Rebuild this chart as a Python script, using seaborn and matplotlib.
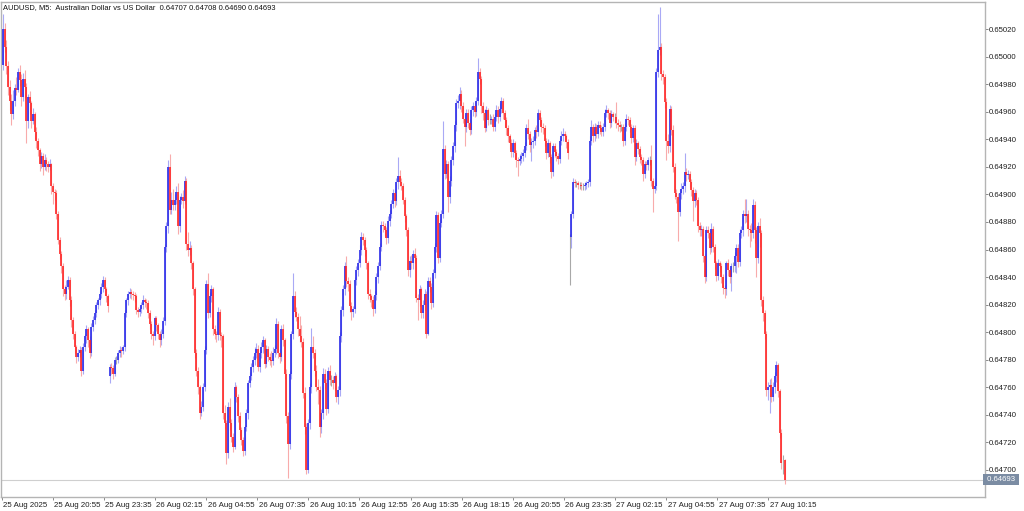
import numpy as np
import matplotlib
matplotlib.use("Agg")
import matplotlib.pyplot as plt
import matplotlib.transforms as mtransforms
import seaborn as sns

# ---------------- data (prices in points, 1 point = 0.00001) ----------------
chart_title = "AUDUSD, M5:  Australian Dollar vs US Dollar  0.64707 0.64708 0.64690 0.64693"
last_price = 0.64693

time_labels = ["25 Aug 2025", "25 Aug 20:55", "25 Aug 23:35", "26 Aug 02:15",
               "26 Aug 04:55", "26 Aug 07:35", "26 Aug 10:15", "26 Aug 12:55",
               "26 Aug 15:35", "26 Aug 18:15", "26 Aug 20:55", "26 Aug 23:35",
               "27 Aug 02:15", "27 Aug 04:55", "27 Aug 07:35", "27 Aug 10:15"]

price_ticks = [0.64700, 0.64720, 0.64740, 0.64760, 0.64780, 0.64800, 0.64820,
               0.64840, 0.64860, 0.64880, 0.64900, 0.64920, 0.64940, 0.64960,
               0.64980, 0.65000, 0.65020]

open_pts = [
    64994, 65020, 65007, 64993, 64978, 64968, 64958, 64968, 64977, 64976,
    64989, 64983, 64971, 64984, 64978, 64953, 64971, 64966, 64953, 64958,
    64945, 64939, 64932, 64922, 64928, 64920, 64925, 64922, 64920, 64922,
    64906, 64902, 64901, 64886, 64867, 64857, 64848, 64831, 64828, 64833,
    64838, 64823, 64809, 64799, 64789, 64782, 64785, 64787, 64772, 64789,
    64797, 64802, 64794, 64785, 64804, 64809, 64814, 64820, 64823, 64828,
    64833, 64838, 64831, 64826,
    64768, 64775, 64774, 64770, 64780, 64780, 64785, 64787, 64786, 64789,
    64814, 64823, 64828, 64829, 64828, 64827, 64826, 64816, 64815, 64817,
    64820, 64823, 64822, 64821, 64814, 64806, 64799, 64797, 64810, 64805,
    64799, 64794, 64799, 64808, 64862, 64877, 64920, 64889, 64896, 64892,
    64896, 64902, 64877, 64896, 64898, 64895, 64910, 64864, 64860, 64861,
    64850, 64831, 64785, 64772, 64760, 64741, 64746, 64760, 64787, 64835,
    64814, 64826, 64831, 64802, 64799, 64798, 64815, 64798, 64797, 64741,
    64734, 64712, 64746, 64734, 64724, 64717, 64760, 64753, 64739, 64729,
    64722, 64714, 64731,
    64741, 64763, 64768, 64775, 64780, 64785, 64788, 64775, 64785, 64789,
    64794, 64777, 64788, 64782, 64780, 64779, 64785, 64788, 64806, 64785,
    64782, 64802, 64794, 64770, 64739, 64719, 64770, 64799, 64826, 64815,
    64811, 64802, 64797, 64793, 64756, 64731, 64700, 64734, 64760, 64789,
    64785, 64772, 64760, 64758, 64731, 64741, 64770, 64763, 64744, 64772,
    64765, 64765, 64763, 64768, 64753, 64758, 64797, 64816, 64831, 64848,
    64837, 64835, 64819, 64815, 64817, 64838, 64845, 64850, 64860, 64869,
    64867, 64860, 64850, 64828, 64826, 64823, 64817, 64827, 64840, 64848,
    64862, 64878, 64877, 64874, 64868, 64881, 64886, 64893, 64901, 64895,
    64909, 64913, 64909, 64906, 64896, 64884, 64874, 64845, 64852, 64850,
    64857, 64854, 64825, 64823, 64831, 64814, 64820, 64828, 64799, 64837,
    64833, 64821, 64843, 64862, 64885, 64854, 64879, 64886, 64933, 64915,
    64922, 64898, 64910, 64925, 64935, 64950, 64966, 64968, 64973, 64964,
    64955, 64949, 64959, 64952, 64947, 64961, 64964, 64960, 64968, 64989,
    64984, 64964, 64959, 64948, 64961, 64954, 64954,
    64955, 64949, 64956, 64961, 64956, 64962, 64968, 64959, 64954, 64948,
    64942, 64937, 64931, 64937, 64930, 64925, 64924, 64926, 64928, 64930,
    64935, 64948, 64944, 64936, 64938, 64939, 64947, 64945, 64959, 64954,
    64949, 64948, 64939, 64930, 64937, 64927, 64916, 64935, 64931, 64928,
    64926, 64939, 64942, 64944, 64942, 64938,
    64869,
    64869, 64886, 64909, 64908, 64908, 64907, 64907, 64906, 64906, 64907,
    64908, 64909, 64939, 64949, 64942, 64949, 64944, 64950, 64948, 64945,
    64949, 64959, 64961, 64959, 64952, 64958, 64956, 64956, 64952, 64950,
    64949, 64949, 64939, 64949, 64955, 64954, 64949, 64941, 64948, 64927,
    64937, 64933, 64927, 64925, 64915, 64922, 64921, 64925, 64925, 64910,
    64904, 64906, 64989, 65005, 65007, 64987, 64985, 64967, 64939, 64935,
    64962, 64947, 64920, 64901, 64898, 64887, 64901, 64904, 64906, 64916,
    64914, 64915, 64909, 64903, 64895, 64901, 64896, 64877, 64874, 64875,
    64855, 64840, 64874, 64872, 64861, 64875, 64862, 64850, 64841, 64850,
    64848, 64840, 64832, 64831, 64850, 64845, 64840, 64848, 64848,
    64855, 64861, 64851, 64872, 64874, 64886, 64884, 64886, 64875, 64874,
    64872, 64892, 64874, 64854, 64877, 64872, 64823, 64814, 64799, 64758,
    64760, 64762, 64753, 64760, 64768, 64776, 64757, 64727, 64707, 64707,
]

high_pts = [
    65031, 65024, 65012, 64997, 64983, 64973, 64976, 64980, 64985, 64992,
    64994, 64987, 64988, 64990, 64981, 64973, 64975, 64968, 64963, 64960,
    64949, 64941, 64934, 64931, 64930, 64929, 64927, 64924, 64926, 64923,
    64908, 64904, 64903, 64888, 64869, 64859, 64850, 64834, 64838, 64841,
    64840, 64826, 64811, 64801, 64791, 64788, 64790, 64789, 64792, 64799,
    64805, 64804, 64797, 64807, 64812, 64816, 64822, 64825, 64830, 64836,
    64841, 64840, 64833, 64828,
    64777, 64778, 64776, 64782, 64783, 64787, 64790, 64789, 64791, 64816,
    64825, 64830, 64832, 64831, 64830, 64829, 64828, 64818, 64820, 64822,
    64827, 64825, 64824, 64823, 64816, 64808, 64801, 64812, 64812, 64807,
    64801, 64802, 64811, 64864, 64880, 64925, 64929, 64902, 64904, 64900,
    64906, 64908, 64899, 64901, 64903, 64913, 64912, 64873, 64866, 64863,
    64852, 64833, 64788, 64775, 64762, 64750, 64763, 64790, 64838, 64843,
    64829, 64834, 64833, 64805, 64801, 64818, 64817, 64800, 64799, 64747,
    64736, 64749, 64752, 64737, 64727, 64764, 64762, 64755, 64742, 64731,
    64724, 64733, 64744,
    64765, 64771, 64778, 64783, 64789, 64792, 64791, 64788, 64793, 64797,
    64796, 64791, 64790, 64785, 64786, 64789, 64791, 64810, 64808, 64788,
    64805, 64806, 64796, 64773, 64742, 64772, 64801, 64843, 64830, 64818,
    64814, 64812, 64805, 64796, 64760, 64734, 64737, 64763, 64803, 64797,
    64788, 64776, 64766, 64761, 64744, 64774, 64773, 64766, 64775, 64776,
    64769, 64768, 64771, 64770, 64761, 64800, 64819, 64834, 64851, 64855,
    64840, 64838, 64822, 64819, 64840, 64848, 64853, 64863, 64873, 64872,
    64869, 64862, 64852, 64831, 64828, 64826, 64830, 64843, 64851, 64865,
    64881, 64881, 64879, 64876, 64884, 64889, 64896, 64904, 64904, 64912,
    64927, 64918, 64912, 64908, 64898, 64886, 64876, 64855, 64856, 64860,
    64861, 64856, 64828, 64834, 64833, 64823, 64831, 64830, 64840, 64840,
    64836, 64846, 64865, 64888, 64887, 64882, 64889, 64953, 64936, 64925,
    64924, 64913, 64928, 64938, 64953, 64969, 64972, 64978, 64976, 64967,
    64958, 64962, 64962, 64955, 64964, 64967, 64967, 64971, 64999, 64992,
    64986, 64967, 64962, 64964, 64963, 64958, 64957,
    64958, 64959, 64965, 64964, 64966, 64971, 64970, 64961, 64956, 64950,
    64944, 64940, 64940, 64939, 64932, 64927, 64929, 64931, 64933, 64938,
    64951, 64955, 64946, 64941, 64942, 64949, 64950, 64962, 64961, 64956,
    64952, 64950, 64941, 64940, 64939, 64929, 64937, 64937, 64933, 64930,
    64941, 64946, 64948, 64946, 64944, 64940,
    64871,
    64888, 64912, 64911, 64910, 64910, 64909, 64909, 64908, 64909, 64910,
    64911, 64942, 64954, 64951, 64952, 64951, 64953, 64953, 64950, 64952,
    64962, 64965, 64963, 64961, 64961, 64960, 64959, 64967, 64955, 64953,
    64951, 64951, 64952, 64958, 64957, 64956, 64951, 64950, 64950, 64940,
    64939, 64935, 64929, 64927, 64924, 64924, 64927, 64928, 64936, 64912,
    64909, 64992, 65031, 65036, 65010, 64990, 64987, 64970, 64944, 64965,
    64964, 64950, 64923, 64904, 64901, 64904, 64908, 64909, 64930, 64919,
    64918, 64917, 64911, 64905, 64904, 64903, 64898, 64880, 64878, 64877,
    64857, 64877, 64877, 64874, 64879, 64877, 64864, 64852, 64853, 64852,
    64850, 64842, 64834, 64852, 64853, 64847, 64850, 64851, 64858,
    64864, 64864, 64875, 64877, 64889, 64897, 64897, 64889, 64878, 64879,
    64897, 64895, 64876, 64880, 64883, 64874, 64826, 64816, 64801, 64764,
    64766, 64767, 64764, 64771, 64779, 64778, 64759, 64730, 64711, 64708,
]

low_pts = [
    64990, 65003, 64987, 64972, 64961, 64950, 64955, 64964, 64972, 64974,
    64979, 64964, 64968, 64970, 64937, 64948, 64958, 64948, 64951, 64940,
    64934, 64928, 64917, 64919, 64914, 64918, 64917, 64916, 64918, 64900,
    64893, 64896, 64882, 64864, 64853, 64843, 64826, 64823, 64824, 64831,
    64819, 64804, 64795, 64785, 64778, 64779, 64782, 64768, 64770, 64786,
    64792, 64789, 64781, 64783, 64801, 64806, 64811, 64817, 64820, 64825,
    64829, 64827, 64822, 64815,
    64763, 64770, 64766, 64768, 64777, 64778, 64782, 64782, 64784, 64786,
    64811, 64820, 64825, 64824, 64823, 64822, 64813, 64811, 64812, 64814,
    64817, 64818, 64817, 64810, 64802, 64795, 64791, 64794, 64801, 64795,
    64789, 64791, 64796, 64805, 64858, 64872, 64886, 64886, 64889, 64889,
    64893, 64871, 64873, 64893, 64890, 64893, 64860, 64855, 64856, 64846,
    64827, 64781, 64768, 64755, 64737, 64739, 64743, 64757, 64784, 64810,
    64811, 64822, 64798, 64795, 64793, 64794, 64794, 64789, 64737, 64730,
    64704, 64709, 64729, 64720, 64713, 64715, 64749, 64735, 64725, 64718,
    64710, 64711, 64728,
    64737, 64760, 64765, 64771, 64776, 64781, 64772, 64771, 64781, 64785,
    64774, 64775, 64779, 64776, 64775, 64776, 64782, 64784, 64781, 64778,
    64779, 64790, 64766, 64734, 64694, 64715, 64766, 64795, 64811, 64808,
    64797, 64793, 64789, 64752, 64726, 64697, 64698, 64730, 64756, 64781,
    64768, 64757, 64748, 64724, 64727, 64737, 64759, 64740, 64741, 64762,
    64761, 64759, 64758, 64749, 64748, 64754, 64793, 64812, 64827, 64833,
    64830, 64815, 64809, 64811, 64814, 64834, 64841, 64847, 64856, 64863,
    64855, 64846, 64824, 64822, 64818, 64812, 64814, 64823, 64836, 64845,
    64859, 64873, 64870, 64864, 64865, 64877, 64883, 64890, 64891, 64892,
    64904, 64906, 64903, 64893, 64880, 64870, 64841, 64840, 64846, 64846,
    64850, 64822, 64809, 64819, 64810, 64810, 64816, 64796, 64798, 64829,
    64817, 64818, 64839, 64858, 64850, 64851, 64876, 64883, 64911, 64912,
    64887, 64894, 64906, 64921, 64931, 64946, 64963, 64962, 64960, 64952,
    64935, 64945, 64948, 64943, 64944, 64957, 64956, 64957, 64965, 64980,
    64959, 64954, 64945, 64946, 64950, 64951, 64951,
    64946, 64946, 64953, 64952, 64953, 64959, 64955, 64949, 64943, 64938,
    64933, 64927, 64927, 64926, 64920, 64913, 64921, 64923, 64924, 64927,
    64932, 64940, 64931, 64924, 64934, 64936, 64941, 64942, 64950, 64945,
    64944, 64935, 64926, 64927, 64923, 64912, 64913, 64927, 64924, 64922,
    64923, 64936, 64939, 64939, 64934, 64926,
    64834,
    64861, 64883, 64905, 64905, 64904, 64904, 64903, 64903, 64903, 64904,
    64905, 64906, 64936, 64938, 64939, 64941, 64941, 64944, 64942, 64942,
    64946, 64956, 64955, 64948, 64949, 64953, 64952, 64948, 64946, 64945,
    64946, 64935, 64936, 64946, 64950, 64945, 64937, 64938, 64921, 64924,
    64929, 64923, 64921, 64910, 64912, 64918, 64918, 64921, 64906, 64887,
    64901, 64903, 64985, 65001, 64983, 64980, 64963, 64925, 64930, 64931,
    64943, 64916, 64897, 64894, 64866, 64884, 64897, 64900, 64902, 64910,
    64911, 64905, 64899, 64881, 64891, 64892, 64873, 64870, 64870, 64851,
    64836, 64837, 64868, 64857, 64858, 64858, 64846, 64837, 64838, 64844,
    64836, 64828, 64825, 64827, 64841, 64836, 64830, 64844, 64844,
    64843, 64847, 64848, 64868, 64870, 64879, 64880, 64870, 64862, 64866,
    64868, 64865, 64840, 64850, 64862, 64819, 64808, 64795, 64754, 64751,
    64741, 64749, 64750, 64756, 64764, 64753, 64723, 64701, 64697, 64690,
]

close_pts = [
    65020, 65007, 64993, 64978, 64968, 64958, 64968, 64977, 64976, 64989,
    64983, 64971, 64984, 64978, 64953, 64971, 64966, 64953, 64958, 64945,
    64939, 64932, 64922, 64928, 64920, 64925, 64922, 64920, 64922, 64906,
    64902, 64901, 64886, 64867, 64857, 64848, 64831, 64828, 64833, 64838,
    64823, 64809, 64799, 64789, 64782, 64785, 64787, 64772, 64789, 64797,
    64802, 64794, 64785, 64804, 64809, 64814, 64820, 64823, 64828, 64833,
    64838, 64831, 64826, 64819,
    64775, 64774, 64770, 64780, 64780, 64785, 64787, 64786, 64789, 64814,
    64823, 64828, 64829, 64828, 64827, 64826, 64816, 64815, 64817, 64820,
    64823, 64822, 64821, 64814, 64806, 64799, 64797, 64810, 64805, 64799,
    64794, 64799, 64808, 64862, 64877, 64920, 64889, 64896, 64892, 64896,
    64902, 64877, 64896, 64898, 64895, 64910, 64864, 64860, 64861, 64850,
    64831, 64785, 64772, 64760, 64741, 64746, 64760, 64787, 64835, 64814,
    64826, 64831, 64802, 64799, 64798, 64815, 64798, 64797, 64741, 64734,
    64712, 64746, 64734, 64724, 64717, 64760, 64753, 64739, 64729, 64722,
    64714, 64731, 64741,
    64763, 64768, 64775, 64780, 64785, 64788, 64775, 64785, 64789, 64794,
    64777, 64788, 64782, 64780, 64779, 64785, 64788, 64806, 64785, 64782,
    64802, 64794, 64770, 64739, 64719, 64770, 64799, 64826, 64815, 64811,
    64802, 64797, 64793, 64756, 64731, 64700, 64734, 64760, 64789, 64785,
    64772, 64760, 64758, 64731, 64741, 64770, 64763, 64744, 64772, 64765,
    64765, 64763, 64768, 64753, 64758, 64797, 64816, 64831, 64848, 64837,
    64835, 64819, 64815, 64817, 64838, 64845, 64850, 64860, 64869, 64867,
    64860, 64850, 64828, 64826, 64823, 64817, 64827, 64840, 64848, 64862,
    64878, 64877, 64874, 64868, 64881, 64886, 64893, 64901, 64895, 64909,
    64913, 64909, 64906, 64896, 64884, 64874, 64845, 64852, 64850, 64857,
    64854, 64825, 64823, 64831, 64814, 64820, 64828, 64799, 64837, 64833,
    64821, 64843, 64862, 64885, 64854, 64879, 64886, 64933, 64915, 64922,
    64898, 64910, 64925, 64935, 64950, 64966, 64968, 64973, 64964, 64955,
    64949, 64959, 64952, 64947, 64961, 64964, 64960, 64968, 64989, 64984,
    64964, 64959, 64948, 64961, 64954, 64954, 64955,
    64949, 64956, 64961, 64956, 64962, 64968, 64959, 64954, 64948, 64942,
    64937, 64931, 64937, 64930, 64925, 64924, 64926, 64928, 64930, 64935,
    64948, 64944, 64936, 64938, 64939, 64947, 64945, 64959, 64954, 64949,
    64948, 64939, 64930, 64937, 64927, 64916, 64935, 64931, 64928, 64926,
    64939, 64942, 64944, 64942, 64938, 64930,
    64869,
    64886, 64909, 64908, 64908, 64907, 64907, 64906, 64906, 64907, 64908,
    64909, 64939, 64949, 64942, 64949, 64944, 64950, 64948, 64945, 64949,
    64959, 64961, 64959, 64952, 64958, 64956, 64956, 64952, 64950, 64949,
    64949, 64939, 64949, 64955, 64954, 64949, 64941, 64948, 64927, 64937,
    64933, 64927, 64925, 64915, 64922, 64921, 64925, 64925, 64910, 64904,
    64906, 64989, 65005, 65007, 64987, 64985, 64967, 64939, 64935, 64962,
    64947, 64920, 64901, 64898, 64887, 64901, 64904, 64906, 64916, 64914,
    64915, 64909, 64903, 64895, 64901, 64896, 64877, 64874, 64875, 64855,
    64840, 64874, 64872, 64861, 64875, 64862, 64850, 64841, 64850, 64848,
    64840, 64832, 64831, 64850, 64845, 64840, 64848, 64848, 64855,
    64861, 64851, 64872, 64874, 64886, 64884, 64886, 64875, 64874, 64872,
    64892, 64874, 64854, 64877, 64872, 64823, 64814, 64799, 64758, 64760,
    64762, 64753, 64760, 64768, 64776, 64757, 64727, 64705, 64707, 64693,
]

POINT = 1e-5

# ---------------- figure ----------------
sns.set_theme(style="white")
plt.rcParams["font.family"] = ["Liberation Sans", "DejaVu Sans"]

W, H = 1024, 511
fig = plt.figure(figsize=(W / 100, H / 100), dpi=100)
fig.patch.set_facecolor("white")
# plot frame: x 1..985 px, y 2..497 px
ax = fig.add_axes([1 / W, (H - 497) / H, 984 / W, 495 / H])
ax.set_facecolor("white")

o = np.array(open_pts) * POINT
h = np.array(high_pts) * POINT
l = np.array(low_pts) * POINT
c = np.array(close_pts) * POINT
n = min(len(o), len(h), len(l), len(c))
o, h, l, c = o[:n], h[:n], l[:n], c[:n]
x = np.arange(n)

up = c > o
dn = c < o
fl = c == o

# wicks (pale)
ax.vlines(x[up], l[up], h[up], color="#a9a9f5", lw=0.8, zorder=2)
ax.vlines(x[dn], l[dn], h[dn], color="#f8abab", lw=0.8, zorder=2)
ax.vlines(x[fl], l[fl], h[fl], color="#a8a8a8", lw=0.8, zorder=2)
# bodies
ax.vlines(x[up], o[up], c[up], color="#2b2be8", lw=1.2, zorder=3)
ax.vlines(x[dn], c[dn], o[dn], color="#ff2626", lw=1.2, zorder=3)

# current price line
ax.axhline(last_price, color="#cfcfcf", lw=0.8, zorder=1)

# scales
px_per_bar = 1.667
first_bar_px = 3.0
ax.set_xlim(-(first_bar_px - 1) / px_per_bar, -(first_bar_px - 1) / px_per_bar + 984 / px_per_bar)
y_top = 0.65020 + 27 * (0.0002 / 27.56)
y_bot = 0.64700 - 27 * (0.0002 / 27.56)
ax.set_ylim(y_bot, y_top)

# frame
for s in ax.spines.values():
    s.set_color("#b4b4b4")
    s.set_linewidth(1.0)

# x ticks (labels left-aligned after the tick mark)
label_step = 51.1 / px_per_bar
tick_pos = [(1.7 - first_bar_px) / px_per_bar + k * label_step for k in range(len(time_labels))]
ax.set_xticks(tick_pos)
ax.set_xticklabels(time_labels, fontsize=5.7, color="#202020", ha="left")
ax.tick_params(axis="x", direction="out", length=2.5, width=0.7, color="#8a8a8a",
               pad=1.2, bottom=True)
offset = mtransforms.ScaledTranslation(1.5 / 100, 0, fig.dpi_scale_trans)
for lab in ax.get_xticklabels():
    lab.set_transform(lab.get_transform() + offset)

# y ticks on right
ax.yaxis.tick_right()
ax.set_yticks(price_ticks)
ax.set_yticklabels([f"{v:.5f}" for v in price_ticks], fontsize=5.6, color="#202020")
ax.tick_params(axis="y", direction="out", length=2.0, width=0.7, color="#8a8a8a",
               pad=0.8, right=True, left=False)
ax.grid(False)

# current price box
ax.text(1.0, last_price, f" {last_price:.5f} ", transform=mtransforms.blended_transform_factory(ax.transAxes, ax.transData),
        ha="left", va="center", fontsize=5.6, color="white", zorder=5, clip_on=False,
        bbox=dict(boxstyle="square,pad=0.25", facecolor="#7b8ca3", edgecolor="none"))

# title
fig.text(3 / W, 1 - 8 / H, chart_title, ha="left", va="center", fontsize=5.4, color="#101010")

fig.savefig("out.png", dpi=100, facecolor="white")
